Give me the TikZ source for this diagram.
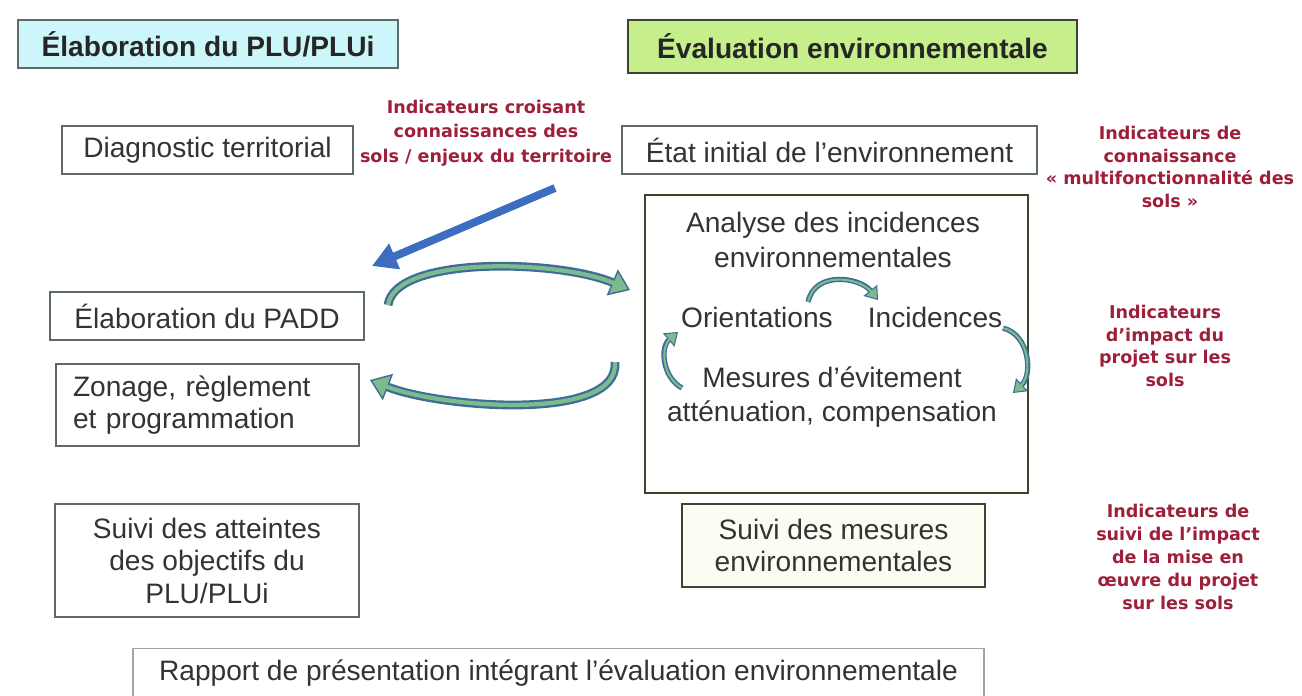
\documentclass[tikz,border=0pt]{standalone}
\usepackage{fontspec}
\setmainfont{Liberation Sans}
\newfontfamily\redfont{DejaVu Sans}
\usepackage{tikz}
\usetikzlibrary{arrows.meta}
\definecolor{plucyan}{HTML}{CCF6FA}
\definecolor{evalgreen}{HTML}{C6EE8A}
\definecolor{boxgrey}{HTML}{5E6A6A}
\definecolor{boxolive}{HTML}{3A4630}
\definecolor{txtgrey}{HTML}{333333}
\definecolor{indred}{HTML}{9E1F3A}
\definecolor{arcblue}{HTML}{3E6E96}
\definecolor{arcgreen}{HTML}{7DBB8E}
\definecolor{feedblue}{HTML}{3C6DC0}
\definecolor{mesfill}{HTML}{FBFDF2}

\begin{document}
\begin{tikzpicture}[
  box/.style={draw=boxgrey, line width=0.9pt, minimum height=0.96cm, align=center, font=\fontsize{16}{18.5}\selectfont, text=txtgrey, inner sep=0pt},
  hdr/.style={draw=boxgrey, line width=1pt, align=center, font=\fontsize{16}{18.5}\selectfont\bfseries, text=black!85, inner sep=0pt},
  txt/.style={align=center, text=txtgrey, inner sep=0pt, font=\fontsize{16}{19.5}\selectfont},
  ind/.style={align=center, text=indred, inner sep=0pt, font=\redfont\bfseries\fontsize{10}{13}\selectfont},
  cyc/.style={line width=5pt, draw=arcblue, -{Triangle[width=16pt,length=11pt,line width=0.8pt,fill=arcgreen]}, postaction={draw=arcgreen, line width=2.4pt, -, shorten >=10pt}},
  incarr/.style={line width=3pt, draw=arcblue, -{Triangle[width=10pt,length=7pt,line width=0.6pt,fill=arcgreen]}, postaction={draw=arcgreen, line width=1.2pt, -, shorten >=6pt}},
  feed/.style={line width=4.5pt, draw=feedblue, -{Triangle[width=15pt,length=14pt]}}
]
\useasboundingbox (0,0) rectangle (26.04,-13.9);

\node[hdr, fill=plucyan, minimum width=7.6cm, minimum height=0.96cm] (hdrplu) at (4.16,-0.88) {Élaboration du PLU/PLUi};
\node[hdr, fill=evalgreen, draw=boxolive, minimum width=8.98cm, minimum height=1.06cm] (hdreval) at (17.05,-0.93) {Évaluation environnementale};

\node[box, minimum width=5.82cm] (diag) at (4.15,-3.0) {Diagnostic territorial};
\node[box, minimum width=8.3cm] (etat) at (16.59,-3.0) {État initial de l’environnement};
\node[box, minimum width=6.28cm] (padd) at (4.14,-6.32) {Élaboration du PADD};
\node[box, align=left, text width=5.38cm, inner xsep=0.34cm, minimum height=1.64cm] (zonage) at (4.15,-8.1) {Zonage, règlement\\ et programmation};
\node[box, minimum width=6.08cm, minimum height=2.26cm] (suiviplu) at (4.14,-11.21) {Suivi des atteintes\\des objectifs du\\PLU/PLUi};

\node[box, draw=boxolive, line width=1.1pt, minimum width=7.66cm, minimum height=5.96cm] (incbox) at (16.73,-6.88) {};
\node[txt] (analyse) at (16.66,-4.8) {Analyse des incidences\\environnementales};
\node[txt] (orient) at (15.14,-6.34) {Orientations};
\node[txt] (incid) at (18.7,-6.34) {Incidences};
\node[txt] (mesures) at (16.64,-7.94) {Mesures d’évitement\\atténuation, compensation};
\node[box, draw=boxolive, fill=mesfill, minimum width=6.06cm, minimum height=1.66cm] (suivimes) at (16.67,-10.91) {Suivi des mesures\\environnementales};

\node[box, draw=boxgrey!60, minimum width=17.02cm, minimum height=0.98cm] (rapport) at (11.17,-13.46) {Rapport de présentation intégrant l’évaluation environnementale};

\node[ind, font=\redfont\bfseries\fontsize{10}{13.8}\selectfont] (indcrois) at (9.72,-2.66) {Indicateurs croisant\\connaissances des\\sols / enjeux du territoire};
\node[ind] (indconn) at (23.4,-3.34) {Indicateurs de\\connaissance\\« multifonctionnalité des\\sols »};
\node[ind] (indimpact) at (23.3,-6.92) {Indicateurs\\d’impact du\\projet sur les\\sols};
\node[ind] (indsuivi) at (23.56,-11.14) {Indicateurs de\\suivi de l’impact\\de la mise en\\œuvre du projet\\sur les sols};

\coordinate (feedtail) at (11.1,-3.76);
\coordinate (feedhead) at (7.44,-5.32);
\coordinate (paddout) at (7.76,-6.1);
\coordinate (incin) at (12.6,-5.8);
\coordinate (incout) at (12.3,-7.24);
\coordinate (zonin) at (7.4,-7.6);
\coordinate (orout) at (16.16,-6.04);
\coordinate (incidin) at (17.56,-6.0);
\coordinate (incidout) at (20.06,-6.56);
\coordinate (mesin) at (20.26,-7.86);
\coordinate (mesout) at (13.64,-7.76);
\coordinate (orin) at (13.56,-6.64);

\draw[feed] (feedtail) -- (feedhead);
\draw[cyc] (paddout) .. controls (7.9,-5.1) and (11.2,-5.2) .. (incin);
\draw[cyc] (incout) .. controls (12.4,-8.45) and (8.8,-8.15) .. (zonin);
\draw[incarr] (orout) .. controls (16.3,-5.4) and (17.2,-5.55) .. (incidin);
\draw[incarr] (incidout) .. controls (20.6,-6.7) and (20.65,-7.5) .. (mesin);
\draw[incarr] (mesout) .. controls (13.25,-7.55) and (13.2,-6.95) .. (orin);
\end{tikzpicture}
\end{document}
